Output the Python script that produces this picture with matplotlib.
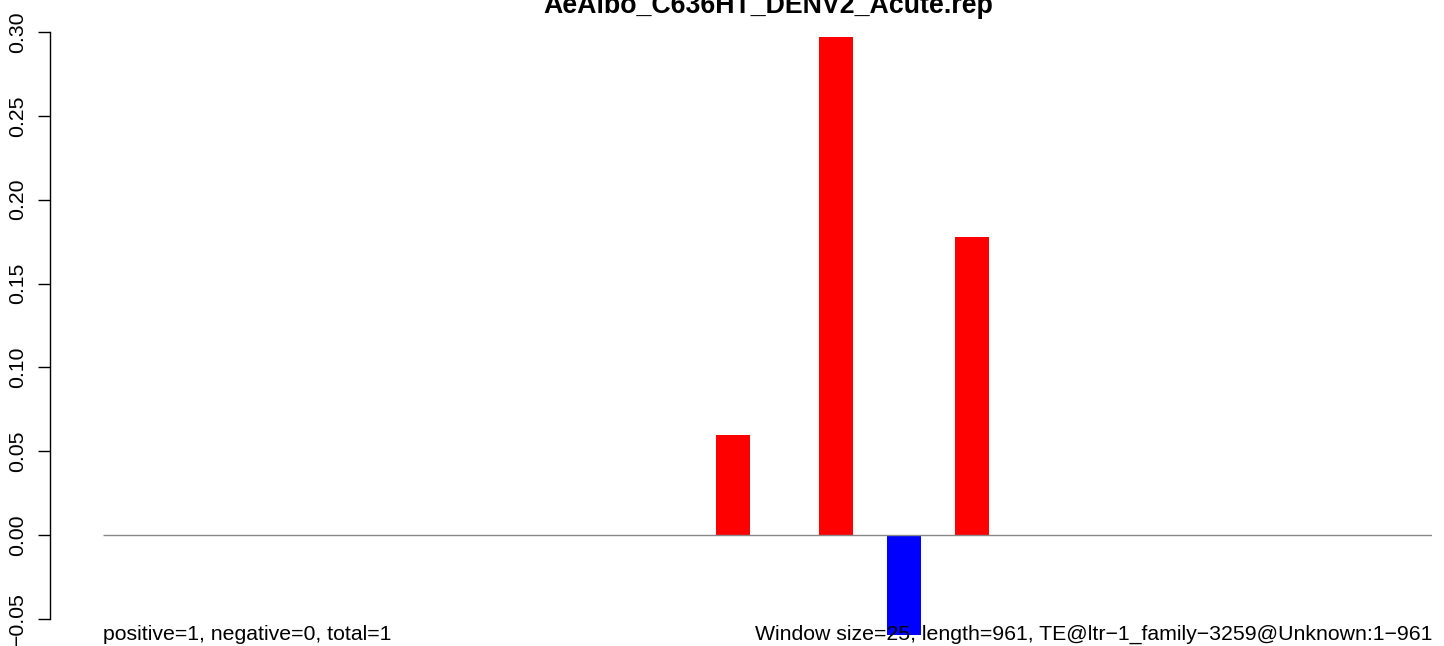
import matplotlib
matplotlib.use("Agg")
import matplotlib.pyplot as plt
import numpy as np

plt.rcParams['font.family'] = ['Liberation Sans', 'DejaVu Sans']

title = "AeAlbo_C636HT_DENV2_Acute.rep"
n_windows = 39
nonzero_idx = [18, 21, 23, 25]
nonzero_val = [0.0596, 0.297, -0.0596, 0.178]
yticks = [-0.05, 0.00, 0.05, 0.10, 0.15, 0.20, 0.25, 0.30]
left_note = "positive=1, negative=0, total=1"
right_note = "Window size=25, length=961, TE@ltr\u22121_family\u22123259@Unknown:1\u2212961"

values = np.zeros(n_windows)
for i, v in zip(nonzero_idx, nonzero_val):
    values[i] = v
colors = ['red' if v >= 0 else 'blue' for v in values]

W, H = 1444, 646
fig = plt.figure(figsize=(W / 100, H / 100), dpi=100)
x0, x1 = 103, 1432
ax = fig.add_axes([x0 / W, 0, (x1 - x0) / W, 1])
ppu = 503 / 0.30
ax.set_ylim((535 - H) / ppu, 535 / ppu)
ax.set_xlim(0, n_windows)

ax.bar(np.arange(n_windows), values, width=1.0, align='edge', color=colors,
       linewidth=0, zorder=2)
ax.hlines(0, 0, n_windows, color='#888888', linewidth=1.0, zorder=3)

for s in ['top', 'right', 'bottom']:
    ax.spines[s].set_visible(False)
ax.spines['left'].set_position(('outward', 53 * 0.72))
ax.spines['left'].set_bounds(-0.05, 0.30)
ax.spines['left'].set_linewidth(1.0)
ax.set_xticks([])
ax.set_yticks(yticks)
ax.set_yticklabels([f"{t:.2f}".replace('-', '\u2212') for t in yticks],
                   rotation=90, va='center', fontsize=15.3)
ax.tick_params(axis='y', length=12 * 0.72, width=1.0, pad=8)

ax.text(0, (535 - 640) / ppu, left_note, ha='left', va='baseline', fontsize=15.3, zorder=5)
ax.text(n_windows, (535 - 640) / ppu, right_note, ha='right', va='baseline', fontsize=15.3, zorder=5)

fig.text(768 / W, 1 - 13 / H, title, ha='center', va='baseline',
         fontsize=19.3, fontweight='bold')

fig.savefig("out.png", dpi=100)
